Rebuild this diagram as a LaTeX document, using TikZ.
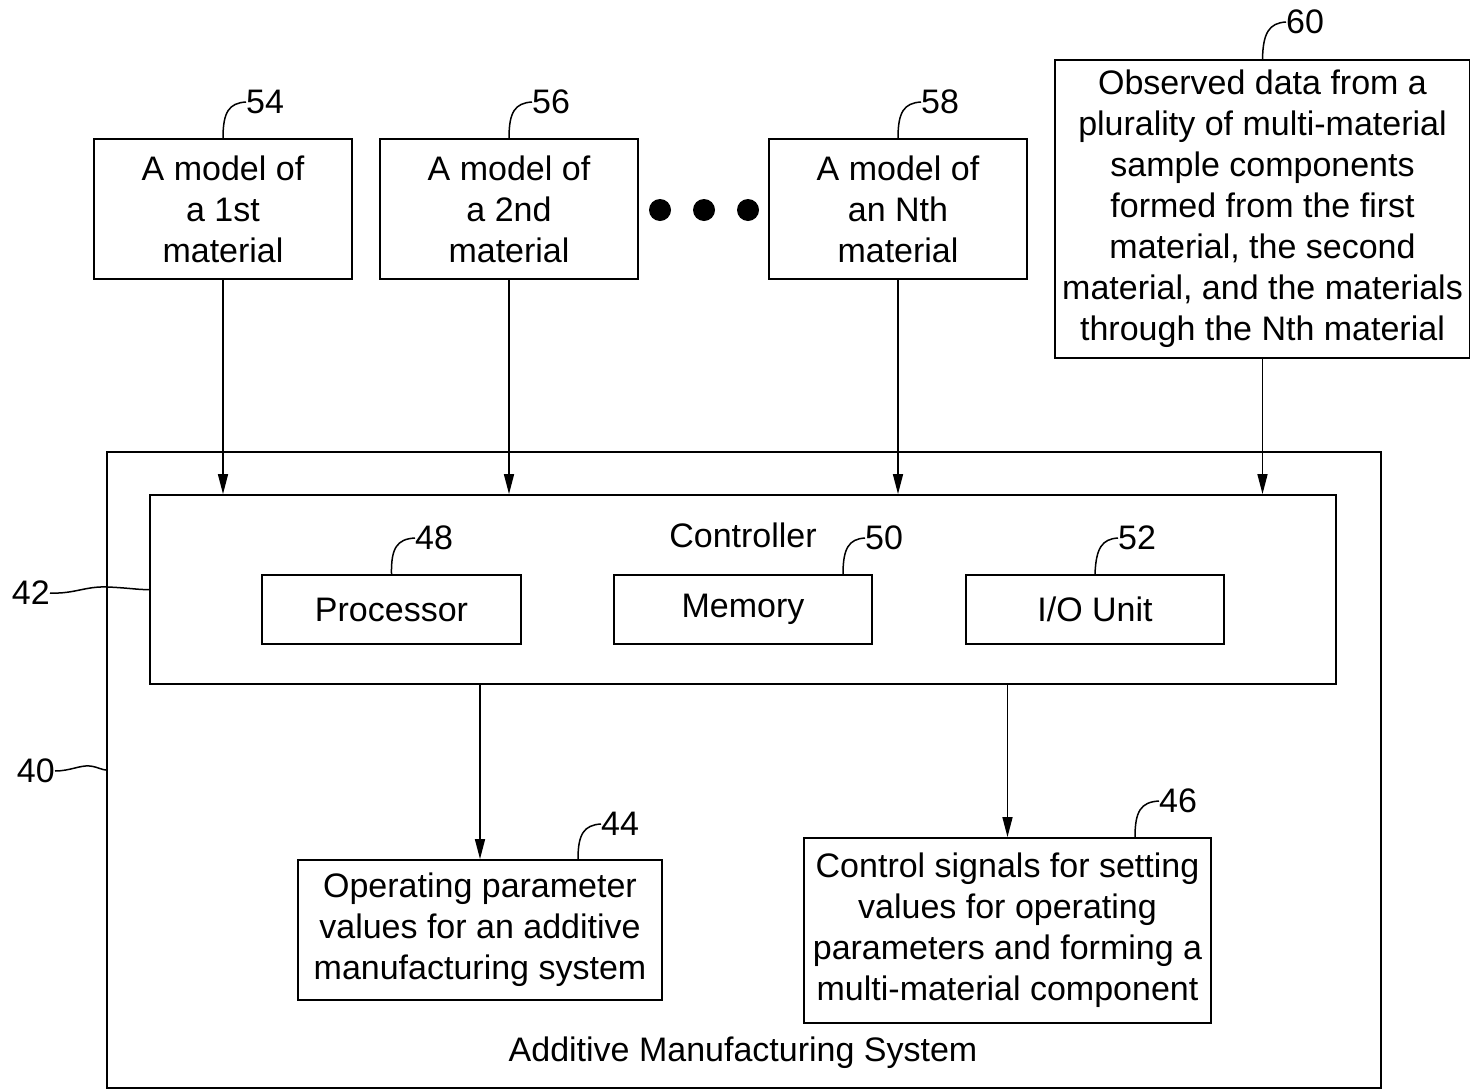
\documentclass[tikz,border=0pt]{standalone}
\usepackage{fontspec}
\setmainfont{Liberation Sans}
\usetikzlibrary{arrows.meta,calc}
\begin{document}
\begin{tikzpicture}[x=1pt,y=-1pt,
  box/.style={draw, line width=1.8pt, inner sep=0pt, align=center, font=\fontsize{34}{41}\selectfont},
  txt/.style={inner sep=0pt, font=\fontsize{34}{41}\selectfont},
  num/.style={inner sep=0pt, anchor=west, font=\fontsize{34}{41}\selectfont},
  numr/.style={inner sep=0pt, anchor=east, font=\fontsize{34}{41}\selectfont},
  arr/.style={line width=1.5pt, -{Triangle[length=20pt,width=10pt]}},
  lead/.style={line width=1.5pt},
  dot/.style={circle, fill=black, inner sep=0pt, minimum size=22pt}]
\useasboundingbox (0,0) rectangle (1470,1090);

% outer system box and controller
\node[box, minimum width=1274pt, minimum height=636pt] (sys) at (744,770) {};
\node[txt] (systxt) at (743,1053) {Additive Manufacturing System};
\node[box, minimum width=1186pt, minimum height=189pt] (ctrl) at (743,589.5) {};
\node[txt] (ctrltxt) at (743,535) {Controller};
\node[box, minimum width=259pt, minimum height=69pt] (proc) at (391.5,609.5) {Processor};
\node[box, minimum width=258pt, minimum height=69pt] (mem) at (743,609.5) {Memory};
\node[box, minimum width=258pt, minimum height=69pt] (io) at (1095,609.5) {I/O Unit};

% model boxes
\node[box, minimum width=258pt, minimum height=140pt] (m1) at (223,209) {A model of\\a 1st\\material};
\node[box, minimum width=258pt, minimum height=140pt] (m2) at (509,209) {A model of\\a 2nd\\material};
\node[box, minimum width=258pt, minimum height=140pt] (mn) at (898,209) {A model of\\an Nth\\material};
\node[box, minimum width=415pt, minimum height=298pt] (obs) at (1262.5,209) {Observed data from a\\plurality of multi-material\\sample components\\formed from the first\\material, the second\\material, and the materials\\through the Nth material};
\node[dot] (d1) at (660,210) {};
\node[dot] (d2) at (704,210) {};
\node[dot] (d3) at (748,210) {};

% output boxes
\node[box, minimum width=364pt, minimum height=140pt] (o44) at (480,930) {Operating parameter\\values for an additive\\manufacturing system};
\node[box, minimum width=407pt, minimum height=185pt] (o46) at (1007.5,930.5) {Control signals for setting\\values for operating\\parameters and forming a\\multi-material component};

% arrows
\draw[arr] (m1.south) -- (m1.south |- ctrl.north);
\draw[arr] (m2.south) -- (m2.south |- ctrl.north);
\draw[arr] (mn.south) -- (mn.south |- ctrl.north);
\draw[arr] (obs.south) -- (obs.south |- ctrl.north);
\draw[arr] (ctrl.south -| o44.north) -- (o44.north);
\draw[arr] (ctrl.south -| o46.north) -- (o46.north);

% reference numerals
\node[num] (n54) at (246,102) {54};
\node[num] (n56) at (532,102) {56};
\node[num] (n58) at (921,102) {58};
\node[num] (n60) at (1286,22) {60};
\node[num] (n48) at (415,538) {48};
\node[num] (n50) at (865,538) {50};
\node[num] (n52) at (1118,538) {52};
\node[num] (n44) at (601,824) {44};
\node[num] (n46) at (1159,801) {46};
\node[numr] (n42) at (50,593) {42};
\node[numr] (n40) at (55,771) {40};

\draw[lead] (m1.north) .. controls (223,112) and (229,103) .. (n54.west);
\draw[lead] (m2.north) .. controls (509,112) and (515,103) .. (n56.west);
\draw[lead] (mn.north) .. controls (898,112) and (904,103) .. (n58.west);
\draw[lead] (obs.north) .. controls (1263,33) and (1269,23) .. (n60.west);
\draw[lead] (proc.north) .. controls (391,548) and (397,539) .. (n48.west);
\draw[lead] ($(mem.north)+(100,0)$) .. controls (843,548) and (849,539) .. (n50.west);
\draw[lead] (io.north) .. controls (1096,548) and (1102,539) .. (n52.west);
\draw[lead] ($(o44.north)+(98,0)$) .. controls (578,834) and (584,825) .. (n44.west);
\draw[lead] ($(o46.north)+(127.5,0)$) .. controls (1135,811) and (1141,802) .. (n46.west);
\draw[lead] (n42.east) .. controls (75,594) and (85,586) .. (108,587) .. controls (130,588) and (140,590) .. (ctrl.west);
\draw[lead] (n40.east) .. controls (70,771) and (80,765) .. (90,766) .. controls (98,767) and (102,770) .. (sys.west);
\end{tikzpicture}
\end{document}
